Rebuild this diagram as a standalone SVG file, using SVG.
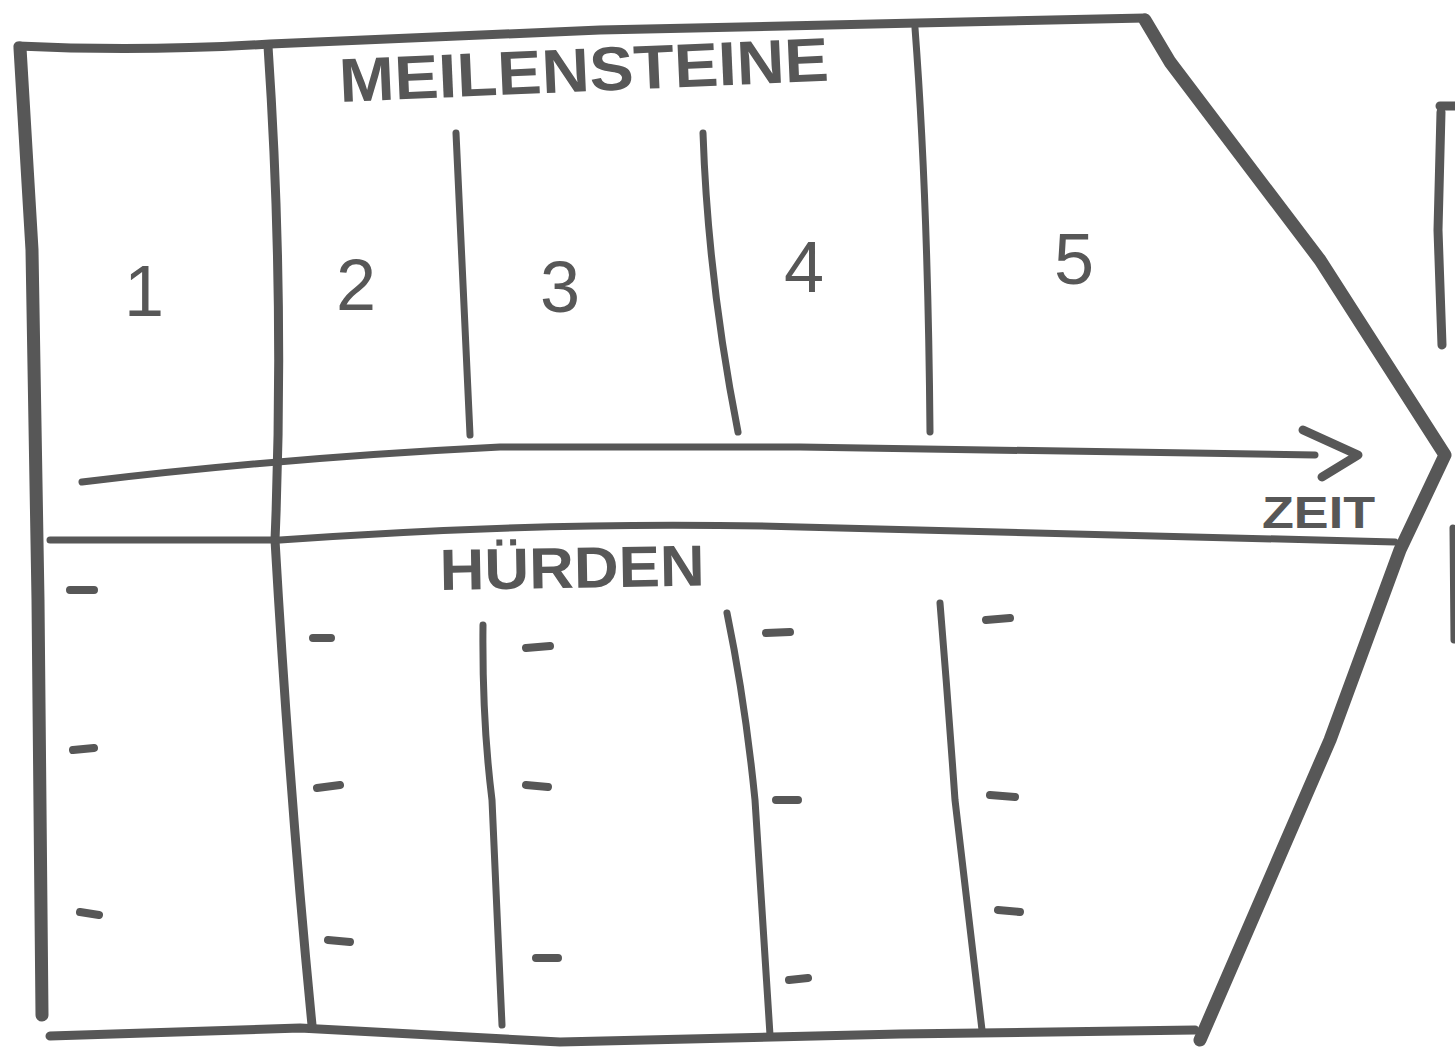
<svg xmlns="http://www.w3.org/2000/svg" width="1455" height="1056" viewBox="0 0 1455 1056">
<style>
.ln{fill:none;stroke:#575757;stroke-linecap:round;stroke-linejoin:round}
.t{stroke-width:7}
.m{stroke-width:9}
.k{stroke-width:13}
.d{stroke-width:8}
.lbl{font-family:"Liberation Sans",Arial,sans-serif;font-weight:bold;fill:#575757}
.num{font-family:"Liberation Sans",Arial,sans-serif;fill:#575757}
</style>
<rect width="1455" height="1056" fill="#ffffff"/>
<g id="frame">
<path class="ln m" d="M18,46 Q140,52 270,44 L600,30 L1145,18"/>
<path class="ln k" d="M20,48 L32,250 L38,600 L42,1015"/>
<path class="ln k" d="M1145,20 L1170,62 L1320,260 L1445,455 L1400,550 L1330,740 L1200,1040"/>
<path class="ln m" d="M50,1036 L300,1028 L560,1042 L900,1034 L1195,1030"/>
</g>
<g id="dividers">
<path class="ln m" d="M268,46 Q285,300 275,540 Q290,800 312,1025"/>
<path class="ln t" d="M915,28 Q928,200 930,432"/>
<path class="ln t" d="M456,133 L470,435"/>
<path class="ln t" d="M703,133 Q708,280 738,432"/>
<path class="ln t" d="M483,625 Q482,720 492,800 L502,1025"/>
<path class="ln t" d="M727,613 Q745,700 755,800 L770,1035"/>
<path class="ln t" d="M940,603 Q948,700 955,800 L982,1030"/>
<path class="ln t" d="M50,540 L280,540 Q560,520 800,527 L1395,542"/>
</g>
<g id="timeline">
<path class="ln t" d="M82,482 Q280,458 500,447 L800,447 L1315,455"/>
<path class="ln m" d="M1303,430 L1358,455 L1322,477"/>
<text class="lbl" x="1262" y="528" font-size="44" textLength="113" lengthAdjust="spacingAndGlyphs">ZEIT</text>
</g>
<g id="labels">
<text class="lbl" x="340" y="102" font-size="62" textLength="490" lengthAdjust="spacingAndGlyphs" transform="rotate(-2.5 340 102)">MEILENSTEINE</text>
<text class="lbl" x="440" y="590" font-size="58" textLength="265" lengthAdjust="spacingAndGlyphs" transform="rotate(-1 440 590)">HÜRDEN</text>
<text class="num" x="124" y="316" font-size="72">1</text>
<text class="num" x="336" y="310" font-size="72">2</text>
<text class="num" x="540" y="312" font-size="72">3</text>
<text class="num" x="784" y="292" font-size="72">4</text>
<text class="num" x="1054" y="284" font-size="72">5</text>
</g>
<g id="dashes">
<path class="ln d" d="M70,590 L94,590 M73,750 L94,748 M80,912 L99,915 M313,638 L331,638 M317,788 L340,785 M328,940 L350,942 M526,648 L550,646 M526,785 L548,787 M536,958 L558,958 M766,633 L790,632 M776,800 L798,800 M789,980 L808,978 M986,620 L1010,618 M990,795 L1015,797 M998,910 L1020,912"/>
</g>
<g id="edge">
<path class="ln m" d="M1440,106 L1455,106"/>
<path class="ln m" d="M1441,112 L1438,230 L1442,345"/>
<path class="ln t" d="M1453,528 L1454,640"/>
</g>
</svg>
